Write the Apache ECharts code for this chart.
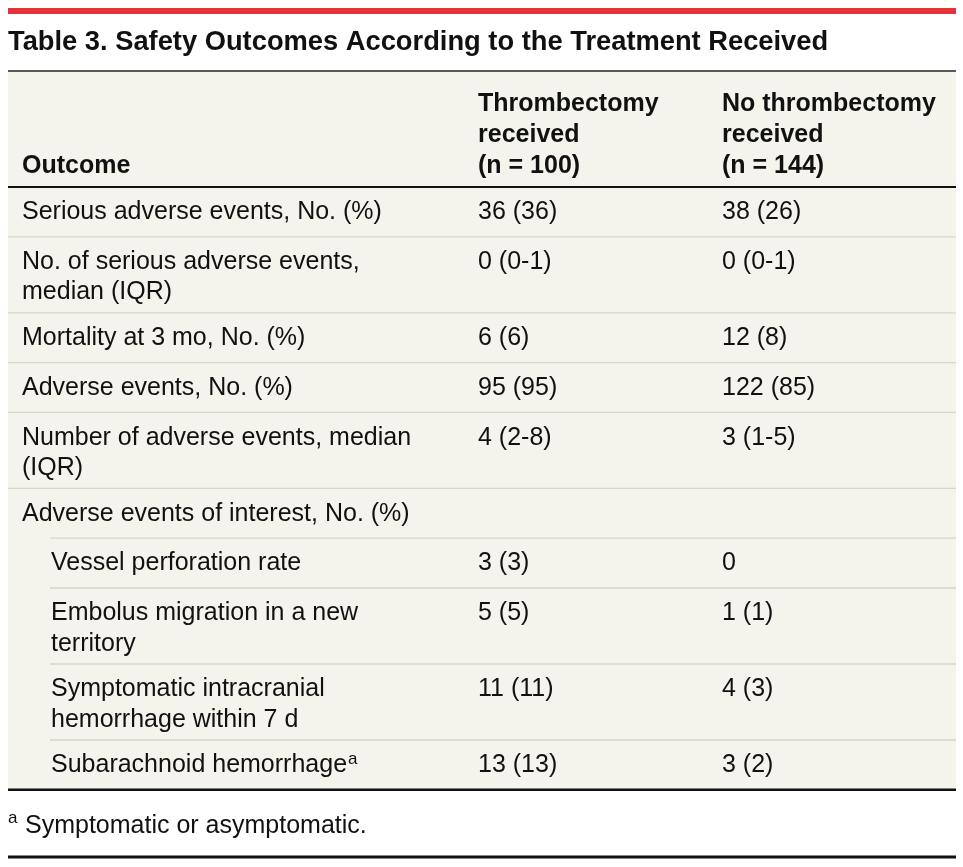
<!DOCTYPE html>
<html>
<head>
<meta charset="utf-8">
<script src="https://cdn.jsdelivr.net/npm/echarts@6/dist/echarts.min.js"></script>
<style>
html, body { margin: 0; padding: 0; background: #fff; }
#main { width: 963px; height: 867px; }
</style>
</head>
<body>
<div id="main"></div>
<script>
var titleText = "Table 3. Safety Outcomes According to the Treatment Received";
var headers = ["Outcome", "Thrombectomy\nreceived\n(n = 100)", "No thrombectomy\nreceived\n(n = 144)"];
var outcomes = [
    "Serious adverse events, No. (%)",
    "No. of serious adverse events,\nmedian (IQR)",
    "Mortality at 3 mo, No. (%)",
    "Adverse events, No. (%)",
    "Number of adverse events, median\n(IQR)",
    "Adverse events of interest, No. (%)",
    "Vessel perforation rate",
    "Embolus migration in a new\nterritory",
    "Symptomatic intracranial\nhemorrhage within 7 d",
    "Subarachnoid hemorrhage{sup|a}"
];
var thrombectomy = ["36 (36)", "0 (0-1)", "6 (6)", "95 (95)", "4 (2-8)", "", "3 (3)", "5 (5)", "11 (11)", "13 (13)"];
var noThrombectomy = ["38 (26)", "0 (0-1)", "12 (8)", "122 (85)", "3 (1-5)", "", "0", "1 (1)", "4 (3)", "3 (2)"];
// sub-rows (indented)
var subRow = [false, false, false, false, false, false, true, true, true, true];
var footnoteMark = "a";
var footnoteText = "Symptomatic or asymptomatic.";

var FONT = "'Liberation Sans', Arial, sans-serif";
var tblLeft = 8, tblRight = 956;
var colX = [22, 478, 722];
var indentX = 51;
var headTop = 72, headBottom = 187;
var beige = "#f4f3ec";
var ruleColor = "#d8d5c9";

function init() {
    var chart = echarts.init(document.getElementById("main"), null, { renderer: "canvas" });
    var elements = [];

    // red band at top
    elements.push({
        type: "rect",
        shape: { x: tblLeft, y: 8, width: tblRight - tblLeft, height: 6 },
        style: { fill: "#e4343b" }
    });

    // title
    elements.push({
        type: "text",
        style: {
            text: titleText, x: tblLeft, y: 42,
            fontSize: 27.3, fontWeight: "bold", fontFamily: FONT,
            fill: "#111", verticalAlign: "middle"
        }
    });

    /* row heights */
    var rowTops = [], yPos = headBottom;
    for (var i = 0; i < outcomes.length; i++) {
        rowTops.push(yPos);
        var n = outcomes[i].split("\n").length;
        yPos += n > 1 ? 76 : 49.8;
    }
    var tableBottom = yPos;

    // beige background
    elements.push({
        type: "rect",
        shape: { x: tblLeft, y: headTop, width: tblRight - tblLeft, height: tableBottom - headTop },
        style: { fill: beige }
    });

    // headers
    for (var c = 0; c < headers.length; c++) {
        var lines = headers[c].split("\n").length;
        elements.push({
            type: "text",
            style: {
                text: headers[c], x: colX[c], y: 166 + 15.5 - lines * 31,
                fontSize: 25, fontWeight: "bold", fontFamily: FONT,
                fill: "#111", verticalAlign: "top", lineHeight: 31
            }
        });
    }

    // body rows
    for (var r = 0; r < outcomes.length; r++) {
        var rowTop = rowTops[r];
        if (r > 0) {
            elements.push({
                type: "line",
                shape: { x1: subRow[r] ? 50 : tblLeft, y1: rowTop, x2: tblRight, y2: rowTop },
                style: { stroke: ruleColor, lineWidth: 1.3 }
            });
        }
        var cells = [outcomes[r], thrombectomy[r], noThrombectomy[r]];
        for (var k = 0; k < cells.length; k++) {
            if (!cells[k]) continue;
            elements.push({
                type: "text",
                style: {
                    text: cells[k],
                    x: k === 0 && subRow[r] ? indentX : colX[k],
                    y: rowTop + 10,
                    fontSize: 25, fontFamily: FONT, fill: "#111",
                    verticalAlign: "top", lineHeight: 30.5,
                    rich: {
                        sup: { fontSize: 17, fontFamily: FONT, fill: "#111", verticalAlign: "top", lineHeight: 30.5, padding: [1, 0, 0, 1] }
                    }
                }
            });
        }
    }

    // black rules
    elements.push({ type: "line", shape: { x1: tblLeft, y1: 71, x2: tblRight, y2: 71 }, style: { stroke: "#222", lineWidth: 1.6 } });
    elements.push({ type: "line", shape: { x1: tblLeft, y1: headBottom, x2: tblRight, y2: headBottom }, style: { stroke: "#111", lineWidth: 2.2 } });
    elements.push({ type: "line", shape: { x1: tblLeft, y1: tableBottom, x2: tblRight, y2: tableBottom }, style: { stroke: "#111", lineWidth: 2.5 } });
    elements.push({ type: "line", shape: { x1: tblLeft, y1: 857, x2: tblRight, y2: 857 }, style: { stroke: "#111", lineWidth: 3 } });

    // footnote
    elements.push({
        type: "text",
        style: { text: footnoteMark, x: tblLeft, y: 818, fontSize: 17, fontFamily: FONT, fill: "#111", verticalAlign: "middle" }
    });
    elements.push({
        type: "text",
        style: { text: footnoteText, x: 25, y: 826, fontSize: 25, fontFamily: FONT, fill: "#111", verticalAlign: "middle" }
    });

    chart.setOption({
        animation: false,
        graphic: { elements: elements }
    });
}

init();
</script>
</body>
</html>
